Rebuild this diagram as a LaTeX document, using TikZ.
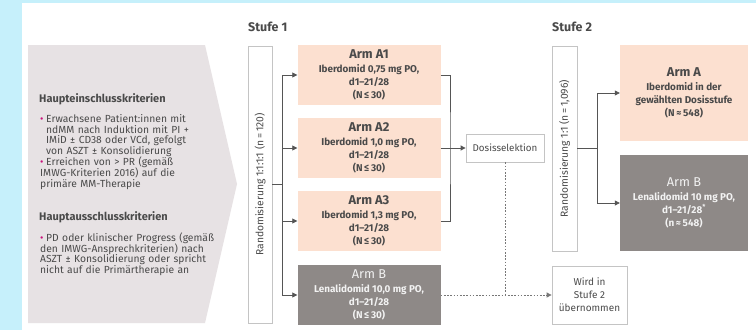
\documentclass[tikz,border=0pt]{standalone}
\usepackage{fontspec}
\setmainfont{Fira Sans}
\usetikzlibrary{arrows.meta}
\definecolor{cyanbg}{HTML}{C6F0FB}
\definecolor{chev}{HTML}{E7E2E4}
\definecolor{peach}{HTML}{FCE0D0}
\definecolor{armgray}{HTML}{8E8987}
\definecolor{txt}{HTML}{4A4A4A}
\definecolor{mag}{HTML}{C8107A}
\definecolor{lineg}{HTML}{555555}
\definecolor{boxline}{HTML}{C4C4C4}
\newcommand{\bitem}[1]{\par\noindent\hangindent=6pt\hangafter=1\makebox[6pt][l]{\textcolor{mag}{\textbullet}}#1}
\newcommand{\armtitle}[1]{{\fontsize{12.8}{14}\selectfont #1}}
\begin{document}
\begin{tikzpicture}[x=1pt,y=-1pt,
  armbox/.style={fill=peach,minimum width=143pt,minimum height=60pt,inner sep=0pt,align=center,text=txt,font=\fontsize{9.9}{13.2}\selectfont\bfseries},
  armgbox/.style={armbox,fill=armgray,text=white!95!black},
  armbig/.style={armbox,minimum width=128pt,minimum height=96pt},
  armgbig/.style={armgbox,minimum width=128pt,minimum height=96pt},
  wbox/.style={draw=boxline,line width=0.8pt,fill=white,inner sep=0pt,align=center,text=txt},
  randbox/.style={wbox,minimum width=24pt},
  randtxt/.style={rotate=90,text=txt,font=\fontsize{10.3}{11}\selectfont,inner sep=0pt},
  conn/.style={draw=lineg,line width=0.8pt},
  arr/.style={conn,-{Triangle[length=5pt,width=5pt]}},
  dots/.style={draw=lineg!80,line width=0.8pt,dash pattern=on 1.6pt off 1.6pt},
  stufe/.style={text=txt,font=\fontsize{12.5}{14}\selectfont\bfseries,inner sep=0pt,anchor=west},
  head/.style={text=txt,font=\fontsize{11}{14}\selectfont\bfseries,inner sep=0pt,anchor=west},
  bul/.style={text=txt,font=\fontsize{10.3}{10.9}\selectfont,inner sep=0pt,anchor=north west,text width=200pt,align=left}
]
\useasboundingbox (0,0) rectangle (756,330);
\fill[cyanbg] (0,0) rectangle (756,330);
\fill[white] (22,3) rectangle (756,330);
% chevron
\fill[chev] (28,45) -- (205,45) -- (237,184) -- (205,323) -- (28,323) -- cycle;
\node[head] (h1) at (39,99) {Haupteinschlusskriterien};
\node[bul] (l1) at (40,111) {\bitem{Erwachsene Patient:innen mit\newline ndMM nach Induktion mit PI +\newline IMiD ± CD38 oder VCd, gefolgt\newline von ASZT ± Konsolidierung}\bitem{Erreichen von > PR (gemäß\newline IMWG-Kriterien 2016) auf die\newline primäre MM-Therapie}};
\node[head] (h2) at (39,217) {Hauptausschlusskriterien};
\node[bul] (l2) at (40,230) {\bitem{PD oder klinischer Progress (gemäß\newline den IMWG-Ansprechkriterien) nach\newline ASZT ± Konsolidierung oder spricht\newline nicht auf die Primärtherapie an}};
% Stufe 1
\node[stufe] (s1) at (248,27) {Stufe 1};
\node[randbox,minimum height=277pt] (r1) at (260,184.5) {};
\node[randtxt] (r1t) at (r1.center) {Randomisierung 1:1:1:1 (n\,=\,120)};
\node[armbox] (a1) at (369,75) {\armtitle{Arm A1}\\Iberdomid 0,75 mg PO,\\d1–21/28\\(N\,≤\,30)};
\node[armbox] (a2) at (369,148) {\armtitle{Arm A2}\\Iberdomid 1,0 mg PO,\\d1–21/28\\(N\,≤\,30)};
\node[armbox] (a3) at (369,221) {\armtitle{Arm A3}\\Iberdomid 1,3 mg PO,\\d1–21/28\\(N\,≤\,30)};
\node[armgbox] (b1) at (369,295) {\armtitle{\mdseries Arm B}\\Lenalidomid 10,0 mg PO,\\d1–21/28\\(N\,≤\,30)};
\coordinate (t1) at (282,184);
\draw[conn] (r1.east |- t1) -- (t1);
\draw[arr] (t1) |- (a1.west);
\draw[arr] (t1) |- (a2.west);
\draw[arr] (t1) |- (a3.west);
\draw[arr] (t1) |- (b1.west);
% Dosisselektion
\node[wbox,minimum width=78pt,minimum height=28pt,font=\fontsize{9.8}{11}\selectfont] (dos) at (505,148) {Dosisselektion};
\coordinate (m1) at (450,148);
\draw[conn] (a1.east) -| (m1) |- (a3.east);
\draw[arr] (a2.east) -- (dos.west);
\node[wbox,minimum width=75pt,minimum height=58pt,font=\fontsize{10}{13}\selectfont] (wird) at (589.5,295) {Wird in\\Stufe 2\\übernommen};
\draw[dots] (dos.south) -- (dos.south |- b1.east);
\draw[dots,-{Triangle[length=5pt,width=5pt]}] (b1.east) -- (wird.west);
% Stufe 2
\node[stufe] (s2) at (552,27) {Stufe 2};
\node[randbox,minimum width=25pt,minimum height=205pt] (r2) at (564.5,148.5) {};
\node[randtxt] (r2t) at (r2.center) {Randomisierung 1:1 (n\,=\,1,096)};
\node[armbig] (aa) at (684,93) {\armtitle{Arm A}\\Iberdomid in der\\gewählten Dosisstufe\\(N\,≈\,548)};
\node[armgbig] (bb) at (684,203) {\armtitle{\mdseries Arm B}\\Lenalidomid 10 mg PO,\\d1–21/28\textsuperscript{*}\\(n\,≈\,548)};
\coordinate (t2) at (597,148.5);
\draw[conn] (r2.east |- t2) -- (t2);
\draw[arr] (t2) |- (aa.west);
\draw[arr] (t2) |- (bb.west);
\end{tikzpicture}
\end{document}
